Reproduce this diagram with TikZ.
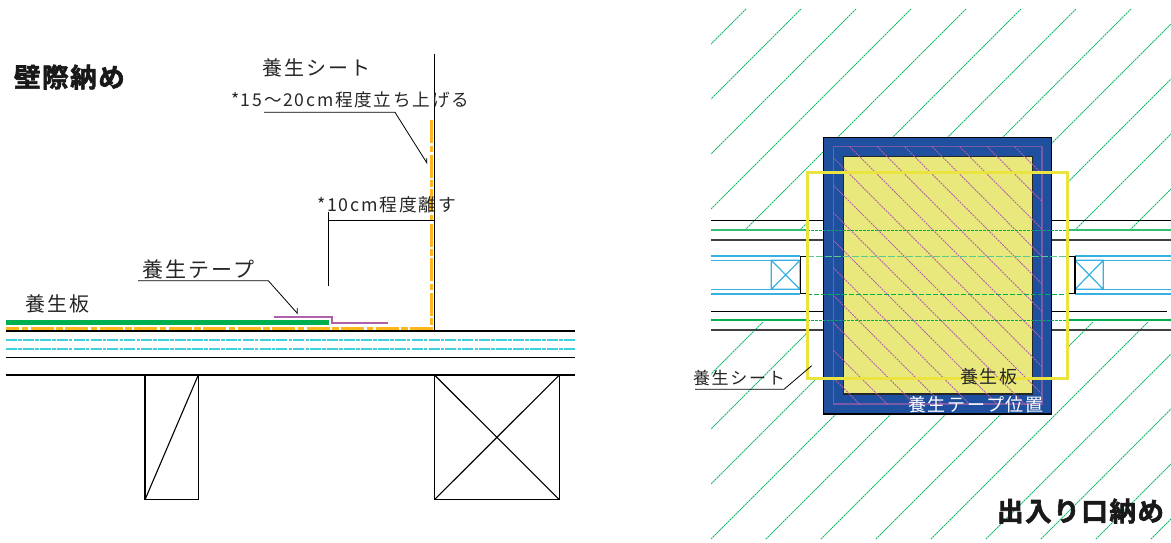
\documentclass[tikz,border=0pt]{standalone}
\usepackage{fontspec}
\newfontfamily\jpa[LetterSpace=10]{Noto Sans CJK JP}
\newfontfamily\jpb[LetterSpace=6,FakeBold=2.2]{Noto Sans CJK JP Bold}
\definecolor{hatchg}{HTML}{12B866}
\definecolor{wallg}{HTML}{00B050}
\definecolor{sheeto}{HTML}{FFB61C}
\definecolor{cyanl}{HTML}{3FD0DC}
\definecolor{tapep}{HTML}{B060A8}
\definecolor{tapeb}{HTML}{7A5AA6}
\definecolor{boardb}{HTML}{1F4F9F}
\definecolor{boardy}{HTML}{E8E87C}
\definecolor{sheety}{HTML}{EAE340}
\tikzset{
  lbl/.style={inner sep=0pt,outer sep=0pt,text=black!85,font=\jpa\fontsize{#1}{#1}\selectfont},
  ttl/.style={inner sep=0pt,outer sep=0pt,text=black!90,font=\jpb\fontsize{#1}{#1}\selectfont},
  ln/.style={draw=black,line width=1.2pt},
  wl/.style={draw=black,line width=1pt},
  thin ln/.style={draw=black,line width=1.1pt},
  lead/.style={draw=black,line width=0.8pt},
  sheetln/.style={draw=sheeto,line width=2.5pt,dash pattern=on 23pt off 2.5pt on 6.5pt off 2.5pt},
  cyandd/.style={draw=cyanl,line width=1.6pt,dash pattern=on 11pt off 1.2pt on 3.5pt off 1.2pt},
  hatch/.style={draw=hatchg,line width=1pt,dash pattern=on 2pt off 0.7pt},
  pinkd/.style={draw=tapep,line width=1pt,dash pattern=on 2pt off 1pt},
  cyanln/.style={draw=cyanl!85!blue,line width=1.2pt},
  gdash/.style={draw=wallg,line width=0.9pt,dash pattern=on 5pt off 2pt},
  gdashl/.style={draw=wallg!65,line width=1pt,dash pattern=on 7pt off 2pt},
  gdot/.style={draw=wallg,line width=0.9pt,dash pattern=on 2.5pt off 1.5pt},
}
\begin{document}
\begin{tikzpicture}[x=1pt,y=-1pt]
\useasboundingbox (0,0) rectangle (1171,543);
% ---------- left detail
\draw[sheetln] (431.7,120) -- (431.7,328.5) -- (6,328.5);
\draw[wallg,line width=5pt] (6,322.5) -- (329,322.5);
\draw[tapep,line width=2pt] (274,316.7) -- (331.7,316.7) -- (331.7,322.5) -- (388,322.5);
\draw[ln] (434.7,54) -- (434.7,331) -- (6,331);
\draw[ln] (434.7,331) -- (575,331);
\draw[cyandd] (6,340) -- (575,340);
\draw[cyandd] (6,349) -- (575,349);
\draw[ln] (6,357.7) -- (575,357.7);
\draw[ln] (6,375) -- (575,375);
\draw[thin ln] (145,375) rectangle (198.3,499.7);
\draw[thin ln] (145,499.7) -- (198.3,375);
\draw[thin ln] (434.5,375) rectangle (559.3,499.7);
\draw[thin ln] (434.5,375) -- (559.3,499.7) (434.5,499.7) -- (559.3,375);
% leaders left
\draw[lead] (264,112.3) -- (395,112.3) -- (426.7,162.7) -- (426.7,158);
\draw[lead] (328.7,212) -- (328.7,285.7);
\draw[lead] (328.7,220.7) -- (434.7,220.7);
\draw[lead] (138,280.7) -- (268.3,280.7) -- (297.3,313.3) -- (297.3,308);
% texts left
\node[ttl=26.5,anchor=west] (t1) at (14,77) {壁際納め};
\node[lbl=20,anchor=west] (t2) at (262,68) {養生シート};
\node[lbl=17.6,anchor=west] (t3) at (231,100) {*15～20cm程度立ち上げる};
\node[lbl=17.8,anchor=west] (t4) at (317,205) {*10cm程度離す};
\node[lbl=21,anchor=west] (t5) at (142,270) {養生テープ};
\node[lbl=20,anchor=west] (t6) at (25,304) {養生板};
% ---------- right plan: hatch outside holes
\begin{scope}
\clip (711,9) -- (1171,9) -- (1171,539) -- (711,539) -- cycle
 (711,230) -- (711,322) -- (807,322) -- (807,378) -- (833,378) -- (833,404) -- (1042,404) -- (1042,378) -- (1067,378) -- (1067,322) -- (1171,322) -- (1171,230) -- (1067,230) -- (1067,173) -- (1042,173) -- (1042,147) -- (833,147) -- (833,173) -- (807,173) -- (807,230) -- cycle;
\foreach \k in {0,...,17}{
  \pgfmathsetmacro\ss{755+55*\k}
  \draw[hatch] (\ss-9,9) -- (\ss-600,600);
}
\end{scope}
% wall lines
\foreach \xa/\xb/\xc/\xd in {711/823/1052/1171}{
  \draw[wl] (\xa,220) -- (\xb,220) (\xc,220) -- (\xd,220);
  \draw[ln,black!75] (\xa,240) -- (\xb,240) (\xc,240) -- (\xd,240);
  \draw[wl] (\xa,311) -- (\xb,311) (\xc,311) -- (1167,311);
  \draw[ln,black!75] (\xa,330) -- (\xb,330) (\xc,330) -- (\xd,330);
}
\draw[wallg!80,line width=1.4pt] (711,230) -- (807,230) (1067,230) -- (1171,230);
\draw[wallg,line width=1.4pt] (711,320) -- (807,320) (1067,320) -- (1171,320);
% cyan rails and studs
\draw[cyanln] (711,256) -- (800,256) (711,260.3) -- (800,260.3) (711,289.3) -- (800,289.3) (711,294) -- (800,294);
\draw[cyanln] (1075,256) -- (1171,256) (1075,260.3) -- (1171,260.3) (1075,289.3) -- (1171,289.3) (1075,294) -- (1171,294);
\draw[cyanln] (771.3,260.3) rectangle (800,289.3) (771.3,260.3) -- (800,289.3) (771.3,289.3) -- (800,260.3);
\draw[cyanln] (1075,260.3) rectangle (1103.3,289.3) (1075,260.3) -- (1103.3,289.3) (1075,289.3) -- (1103.3,260.3);
\draw[thin ln] (800.3,256.7) rectangle (807,293.5);
\draw[thin ln] (1068.3,256.7) rectangle (1075,293.5);
% board
\path[draw=black,line width=1.2pt,fill=boardb] (823.3,137.3) rectangle (1051.7,414);
\path[draw=black!85,line width=1.4pt,fill=boardy] (843.3,156.7) rectangle (1032.3,394);
\draw[tapeb,line width=1.3pt] (833.3,146.7) rectangle (1042,404);
\begin{scope}
\clip (833.3,146.7) rectangle (1042,404);
\foreach \k in {-10,...,7}{
  \pgfmathsetmacro\cc{703+27.5*\k}
  \draw[pinkd] (\cc+100,100) -- (\cc+450,450);
}
\end{scope}
% dashed wall lines across board
\draw[gdot] (807,230) -- (1067,230);
\draw[gdot] (807,320) -- (1067,320);
\draw[gdashl] (807,256) -- (1067,256);
\draw[gdash] (807,294) -- (1067,294);
% yellow sheet
\draw[sheety,line width=2.7pt] (807.3,172.7) rectangle (1067.7,378.3);
% leader and labels right
\draw[lead] (695,389.3) -- (784,389.3) -- (811.7,365.7);
\node[lbl=17,anchor=west] (t7) at (693,378) {養生シート};
\node[lbl=18,anchor=west] (t8) at (960,377) {養生板};
\node[lbl=18,anchor=west,text=white] (t9) at (908,405) {養生テープ位置};
\node[ttl=26.5,anchor=east] (t10) at (1164,511) {出入り口納め};
\end{tikzpicture}
\end{document}
